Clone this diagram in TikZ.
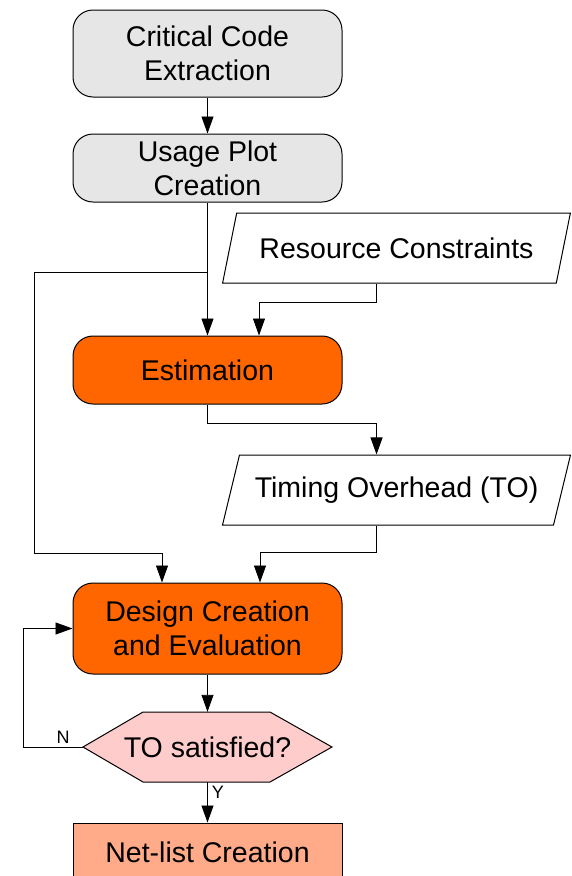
\documentclass[tikz,border=0pt]{standalone}
\usepackage{fontspec}
\setmainfont{Liberation Sans}
\usetikzlibrary{arrows.meta,shapes.geometric,calc}
\definecolor{boxgrey}{HTML}{E6E6E6}
\definecolor{boxorange}{HTML}{FF6600}
\definecolor{boxpink}{HTML}{FFCCCC}
\definecolor{boxsalmon}{HTML}{FFAA88}
\begin{document}
\begin{tikzpicture}[x=1pt,y=1pt,
  every node/.style={font=\fontsize{28.5}{34}\selectfont, align=center, inner sep=0pt},
  procbox/.style={draw, line width=1pt, rounded corners=20pt, minimum width=269pt},
  iobox/.style={draw, line width=1pt, trapezium, trapezium left angle=60, trapezium right angle=120,
                trapezium stretches=true, minimum width=349pt, minimum height=70pt, fill=white},
  conn/.style={line width=0.9pt},
  arr/.style={conn, -{Triangle[length=17pt,width=12pt]}},
  smalllbl/.style={font=\fontsize{18}{20}\selectfont}
]
\useasboundingbox (0,0) rectangle (571,-876);
\clip (0,0) rectangle (571,-876);

\node[procbox, fill=boxgrey, minimum height=87pt] (cce) at (207.5,-53.5) {Critical Code\\Extraction};
\node[procbox, fill=boxgrey, minimum height=68pt] (upc) at (207.5,-168) {Usage Plot\\Creation};
\node[iobox] (res) at (396.5,-248) {Resource Constraints};
\node[procbox, fill=boxorange, minimum height=68pt] (est) at (207.5,-370) {Estimation};
\node[iobox] (tim) at (396.5,-490) {Timing Overhead (TO)};
\node[procbox, fill=boxorange, minimum height=91pt] (des) at (207.5,-628.5) {Design Creation\\and Evaluation};

% decision hexagon
\coordinate (hL) at (83,-747);
\coordinate (hR) at (332,-747);
\draw[line width=1pt, fill=boxpink] (hL) -- (143,-712) -- (270,-712) -- (hR) -- (270,-782) -- (143,-782) -- cycle;
\node[minimum width=249pt, minimum height=70pt] (dec) at (207.5,-747) {TO satisfied?};

\node[draw, line width=1pt, fill=boxsalmon, minimum width=269pt, minimum height=58pt] (net) at (207.5,-852) {Net-list Creation};

% connectors
\draw[arr] (cce.south) -- (upc.north);
\draw[arr] (upc.south) -- (est.north);
\coordinate (b1) at (207.5,-272);
\coordinate (l1) at (34,-553);
\draw[arr] (b1) -| (l1) -| ($(des.north)+(-45.5,0)$);
\draw[arr] ($(res.south)+(-20,0)$) -- ++(0,-19) -| ($(est.north)+(51.5,0)$);
\draw[arr] (est.south) -- ++(0,-19) -| ($(tim.north)+(-20,0)$);
\draw[arr] ($(tim.south)+(-20,0)$) -- ++(0,-27) -| ($(des.north)+(52.5,0)$);
\draw[arr] (des.south) -- (dec.north);
\draw[arr] (hL) -- (23,-747) |- (des.west);
\draw[arr] (dec.south) -- (net.north);
\node[smalllbl] (nlbl) at (63,-737) {N};
\node[smalllbl] (ylbl) at (218,-792) {Y};
\end{tikzpicture}
\end{document}
